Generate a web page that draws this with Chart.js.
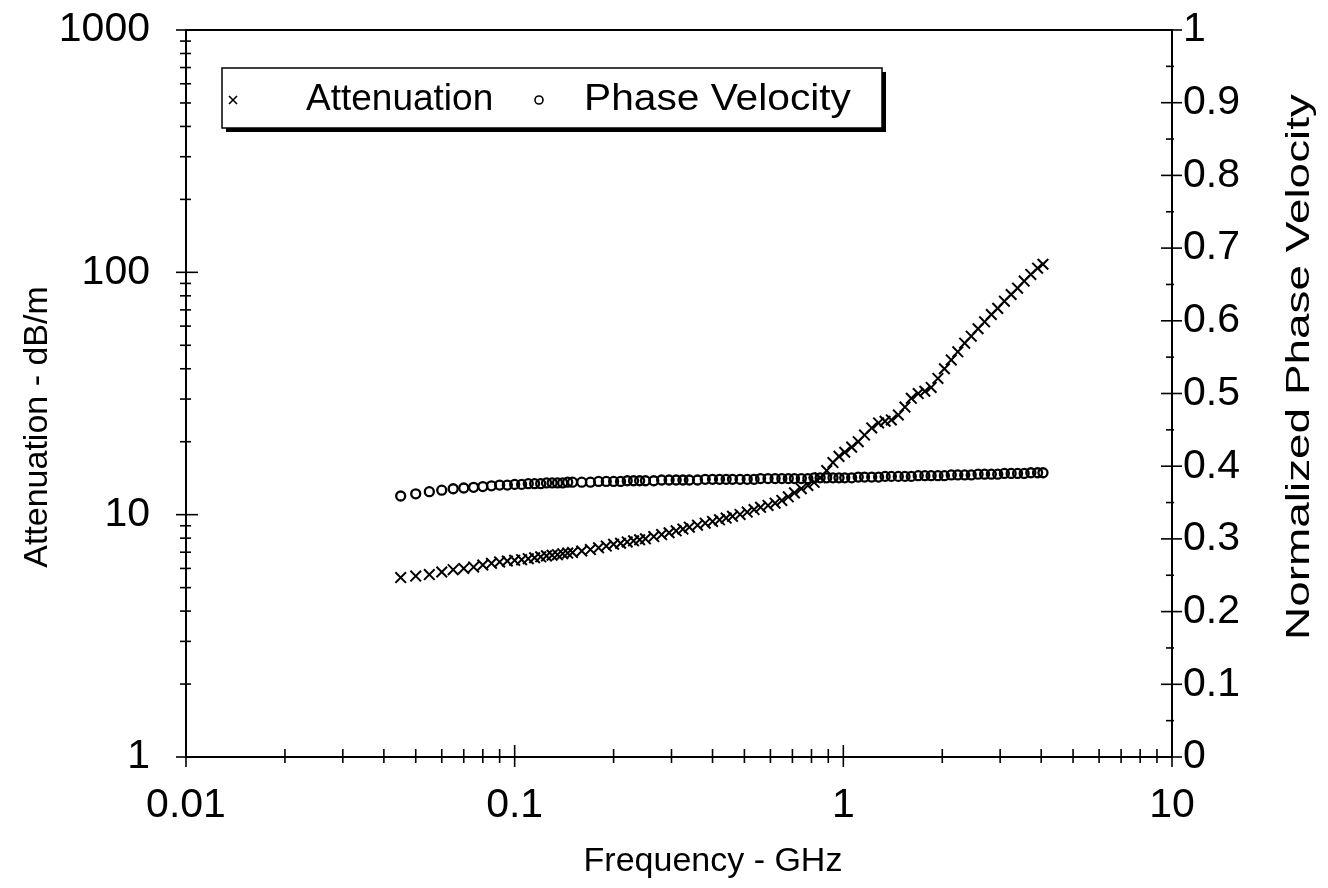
<!DOCTYPE html>
<html>
<head>
<meta charset="utf-8">
<script src="https://cdn.jsdelivr.net/npm/chart.js@4.4.1/dist/chart.umd.min.js"></script>
<style>
html,body{margin:0;padding:0;background:#fff;}
#wrap{width:1328px;height:888px;}
</style>
</head>
<body>
<div id="wrap"><canvas id="c" width="1328" height="888"></canvas></div>
<script>
// ---- data ----
const freqGHz = [0.045,0.050,0.055,0.060,0.065,0.070,0.075,0.080,0.085,0.090,0.095,0.100,0.105,0.110,0.115,0.120,0.125,0.130,0.135,0.140,0.145,0.150,0.160,0.170,0.180,0.190,0.200,0.210,0.220,0.230,0.240,0.250,0.265,0.280,0.295,0.310,0.325,0.340,0.360,0.380,0.400,0.420,0.440,0.460,0.485,0.510,0.535,0.560,0.590,0.620,0.650,0.680,0.710,0.745,0.780,0.815,0.850,0.890,0.930,0.970,1.01,1.06,1.11,1.16,1.22,1.28,1.34,1.40,1.47,1.54,1.61,1.69,1.77,1.85,1.94,2.03,2.13,2.23,2.34,2.45,2.57,2.69,2.82,2.95,3.09,3.24,3.39,3.55,3.72,3.90,4.05];
const attenuation = [5.50,5.58,5.66,5.80,5.93,6.00,6.08,6.20,6.30,6.38,6.44,6.48,6.52,6.58,6.64,6.70,6.76,6.80,6.84,6.90,6.94,6.98,7.08,7.18,7.30,7.42,7.55,7.62,7.72,7.80,7.88,7.95,8.12,8.28,8.42,8.58,8.72,8.88,9.05,9.22,9.38,9.52,9.68,9.84,10.02,10.25,10.50,10.72,10.92,11.15,11.45,11.85,12.30,12.80,13.20,13.60,14.20,15.20,16.40,17.40,18.10,19.00,20.00,21.30,22.80,23.90,24.30,24.60,25.80,27.80,30.20,31.60,32.30,33.50,36.50,40.00,43.50,47.00,51.00,54.50,58.50,62.50,67.00,71.00,76.00,81.00,86.00,92.00,98.00,104.0,108.0];
const phaseVelocity = [0.359,0.362,0.365,0.367,0.369,0.370,0.371,0.372,0.373,0.374,0.374,0.375,0.375,0.376,0.376,0.376,0.377,0.377,0.377,0.377,0.378,0.378,0.378,0.378,0.379,0.379,0.379,0.379,0.380,0.380,0.380,0.380,0.380,0.381,0.381,0.381,0.381,0.381,0.381,0.382,0.382,0.382,0.382,0.382,0.382,0.382,0.382,0.383,0.383,0.383,0.383,0.383,0.383,0.383,0.383,0.384,0.384,0.384,0.384,0.384,0.384,0.384,0.385,0.385,0.385,0.385,0.386,0.386,0.386,0.386,0.386,0.387,0.387,0.387,0.387,0.387,0.388,0.388,0.388,0.388,0.389,0.389,0.389,0.389,0.390,0.390,0.390,0.390,0.391,0.391,0.391];

const seriesNames = ['Attenuation','Phase Velocity'];
const xTickValues = [0.01,0.1,1,10];
const xTickLabels = ['0.01','0.1','1','10'];
const yTickValues = [1,10,100,1000];
const yTickLabels = ['1','10','100','1000'];
const y2TickValues = [0,0.1,0.2,0.3,0.4,0.5,0.6,0.7,0.8,0.9,1];
const y2TickLabels = ['0','0.1','0.2','0.3','0.4','0.5','0.6','0.7','0.8','0.9','1'];
const logMinorMultipliers = [2,3,4,5,6,7,8,9];
const y2MinorValues = [0.05,0.15,0.25,0.35,0.45,0.55,0.65,0.75,0.85,0.95];
const xTitle = 'Frequency - GHz';
const yTitle = 'Attenuation - dB/m';
const y2Title = 'Normalized Phase Velocity';

const FONT = "'Liberation Sans', Arial, sans-serif";
const FS_TITLE = 34;
const FS_TICK = 41;
const FS_LEGEND = 37;

const attPts = freqGHz.map((f,i)=>({x:f,y:attenuation[i]}));
const pvPts = freqGHz.map((f,i)=>({x:f,y:phaseVelocity[i]}));

function setTicks(values){
  return function(scale){ scale.ticks = values.map(v=>({value:v})); };
}

const framePlugin = {
  id:'frame',
  afterDatasetsDraw(chart){
    const ctx = chart.ctx, a = chart.chartArea;
    const sx = chart.scales.x, sy = chart.scales.y, sy2 = chart.scales.y2;
    ctx.save();
    ctx.strokeStyle = '#000';
    ctx.lineWidth = 2;
    ctx.beginPath();
    ctx.rect(a.left, a.top, a.right-a.left, a.bottom-a.top);
    ctx.stroke();
    ctx.lineWidth = 1.6;
    function hTick(x, y, outLen, inLen, dir){
      ctx.beginPath();
      ctx.moveTo(x - dir*inLen, y);
      ctx.lineTo(x + dir*outLen, y);
      ctx.stroke();
    }
    xTickValues.forEach(v=>{
      const px = sx.getPixelForValue(v);
      ctx.beginPath(); ctx.moveTo(px, a.bottom-12); ctx.lineTo(px, a.bottom+10); ctx.stroke();
    });
    [0.01,0.1,1].forEach(d=>logMinorMultipliers.forEach(m=>{
      const px = sx.getPixelForValue(d*m);
      ctx.beginPath(); ctx.moveTo(px, a.bottom-8); ctx.lineTo(px, a.bottom+6); ctx.stroke();
    }));
    yTickValues.forEach(v=>hTick(a.left, sy.getPixelForValue(v), 10, 12, -1));
    [1,10,100].forEach(d=>logMinorMultipliers.forEach(m=>{
      hTick(a.left, sy.getPixelForValue(d*m), 6, 5, -1);
    }));
    y2TickValues.forEach(v=>hTick(a.right, sy2.getPixelForValue(v), 10, 11, 1));
    y2MinorValues.forEach(v=>hTick(a.right, sy2.getPixelForValue(v), 2, 6, 1));

    // axis titles
    ctx.fillStyle = '#000';
    ctx.font = FS_TITLE + 'px ' + FONT;
    ctx.textAlign = 'center';
    ctx.textBaseline = 'middle';
    ctx.fillText(xTitle, 713, 862);
    ctx.save(); ctx.translate(38, 427); ctx.rotate(-Math.PI/2); ctx.fillText(yTitle, 0, 0); ctx.restore();
    ctx.save(); ctx.translate(1300, 367); ctx.rotate(-Math.PI/2); ctx.scale(1.35, 1); ctx.fillText(y2Title, 0, 0); ctx.restore();

    // legend box
    const L = 222, T = 68, R = 882, B = 128;
    ctx.fillStyle = '#000';
    ctx.fillRect(L+4, T+4, R-L, B-T);
    ctx.fillStyle = '#fff';
    ctx.fillRect(L, T, R-L, B-T);
    ctx.lineWidth = 1.5;
    ctx.strokeStyle = '#000';
    ctx.strokeRect(L, T, R-L, B-T);
    const my = 100;
    ctx.lineWidth = 1.6;
    ctx.beginPath();
    ctx.moveTo(229, my-4); ctx.lineTo(237, my+4);
    ctx.moveTo(237, my-4); ctx.lineTo(229, my+4);
    ctx.stroke();
    ctx.beginPath(); ctx.arc(539, my, 4, 0, Math.PI*2); ctx.stroke();
    ctx.fillStyle = '#000';
    ctx.textAlign = 'left';
    ctx.font = FS_LEGEND + 'px ' + FONT;
    ctx.fillText(seriesNames[0], 306, my);
    ctx.save(); ctx.translate(584, my); ctx.scale(1.1, 1); ctx.fillText(seriesNames[1], 0, 0); ctx.restore();
    ctx.restore();
  }
};

new Chart(document.getElementById('c'), {
  type:'scatter',
  data:{
    datasets:[
      {label:seriesNames[0], data:attPts, yAxisID:'y', pointStyle:'crossRot', pointRadius:7.5, borderColor:'#000', backgroundColor:'#000', pointBorderWidth:2, showLine:false},
      {label:seriesNames[1], data:pvPts, yAxisID:'y2', pointStyle:'circle', pointRadius:4.5, borderColor:'#000', backgroundColor:'rgba(0,0,0,0)', pointBorderWidth:2.3, showLine:false}
    ]
  },
  options:{
    responsive:false,
    animation:false,
    layout:{padding:{top:30,left:0,right:0,bottom:0}},
    plugins:{legend:{display:false}, tooltip:{enabled:false}},
    scales:{
      x:{
        type:'logarithmic', position:'bottom', min:0.01, max:10,
        afterBuildTicks:setTicks(xTickValues),
        afterFit(s){ s.height = 131; s.paddingLeft = 0; s.paddingRight = 0; },
        grid:{display:false, drawTicks:false},
        border:{display:false},
        ticks:{autoSkip:false, maxRotation:0, padding:24, color:'#000', font:{family:FONT, size:FS_TICK},
          callback:(v,i)=>xTickLabels[i]}
      },
      y:{
        type:'logarithmic', position:'left', min:1, max:1000,
        afterBuildTicks:setTicks(yTickValues),
        afterFit(s){ s.width = 186; s.paddingTop = 0; s.paddingBottom = 0; },
        grid:{display:false, drawTicks:false},
        border:{display:false},
        ticks:{autoSkip:false, padding:36, color:'#000', font:{family:FONT, size:FS_TICK},
          callback:(v,i)=>yTickLabels[i]}
      },
      y2:{
        type:'linear', position:'right', min:0, max:1,
        afterBuildTicks:setTicks(y2TickValues),
        afterFit(s){ s.width = 156; s.paddingTop = 0; s.paddingBottom = 0; },
        grid:{display:false, drawTicks:false},
        border:{display:false},
        ticks:{autoSkip:false, padding:11, color:'#000', font:{family:FONT, size:FS_TICK},
          callback:(v,i)=>y2TickLabels[i]}
      }
    }
  },
  plugins:[framePlugin]
});
</script>
</body>
</html>
